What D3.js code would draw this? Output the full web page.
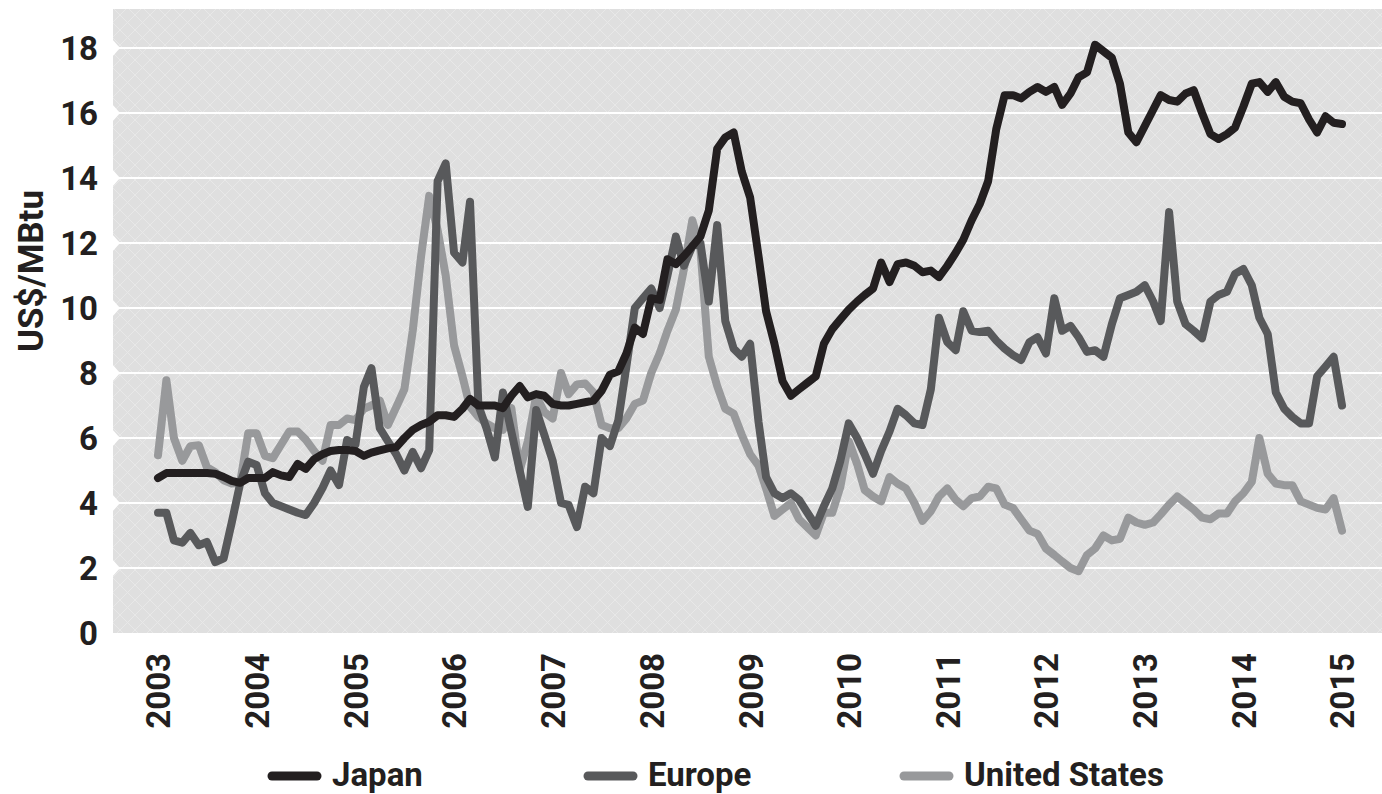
<!DOCTYPE html>
<html lang="en">
<head>
  <meta charset="UTF-8">
  <title>LNG prices</title>
  <style>
    body { margin: 0; background: #fff; overflow: hidden; }
    text { font-family: Roboto, "DejaVu Sans", sans-serif; font-weight: 700; fill: #231f20; }
    .line { fill: none; stroke-width: 8px; stroke-linejoin: round; stroke-linecap: round; }
  </style>
</head>
<body>
  <div id="chart"></div>

  <script src="https://cdn.jsdelivr.net/npm/d3@7"></script>
  <script>
    // tick labels
    const years = d3.range(2003, 2016);
    const yTicks = [0, 2, 4, 6, 8, 10, 12, 14, 16, 18];

    // monthly values, Jan 2003 .. Jan 2015 (US$/MBtu)
    const japan = [
      4.77, 4.92, 4.92, 4.92, 4.92, 4.92, 4.92, 4.9, 4.8, 4.68, 4.62, 4.77,
      4.77, 4.77, 4.95, 4.85, 4.8, 5.2, 5.05, 5.35, 5.5, 5.6, 5.63, 5.63,
      5.6, 5.45, 5.55, 5.62, 5.68, 5.72, 6.0, 6.25, 6.4, 6.5, 6.7, 6.7,
      6.65, 6.9, 7.2, 7.0, 7.0, 7.0, 6.92, 7.3, 7.6, 7.25, 7.35, 7.3,
      7.05, 7.0, 7.0, 7.05, 7.1, 7.15, 7.45, 7.95, 8.05, 8.6, 9.4, 9.2,
      10.3, 10.25, 11.5, 11.35, 11.6, 11.9, 12.2, 13.0, 14.9, 15.25, 15.4, 14.2,
      13.4, 11.6, 9.9, 8.9, 7.75, 7.3, 7.5, 7.7, 7.9, 8.9, 9.35, 9.65,
      9.95, 10.2, 10.4, 10.6, 11.4, 10.8, 11.35, 11.4, 11.3, 11.1, 11.15, 10.95,
      11.3, 11.7, 12.1, 12.7, 13.2, 13.9, 15.5, 16.55, 16.55, 16.45, 16.65, 16.8,
      16.65, 16.8, 16.25, 16.6, 17.1, 17.25, 18.1, 17.9, 17.7, 16.9, 15.4, 15.1,
      15.6, 16.1, 16.55, 16.4, 16.35, 16.6, 16.7, 16.0, 15.35, 15.2, 15.35, 15.55,
      16.2, 16.9, 16.95, 16.65, 16.95, 16.5, 16.35, 16.3, 15.8, 15.4, 15.9, 15.7,
      15.66
    ];
    const europe = [
      3.7, 3.7, 2.85, 2.78, 3.08, 2.7, 2.8, 2.18, 2.3, 3.4, 4.6, 5.27,
      5.17, 4.3, 4.0, 3.9, 3.8, 3.7, 3.63, 4.0, 4.46, 5.0, 4.55, 5.94,
      5.8, 7.57, 8.15, 6.3, 5.9, 5.5, 5.0, 5.57, 5.07, 5.63, 13.9, 14.45,
      11.7, 11.4, 13.27, 7.0, 6.3, 5.4, 7.4, 6.2, 5.0, 3.88, 6.86, 6.1,
      5.3, 4.0, 3.94, 3.26, 4.5, 4.3, 6.0, 5.75, 6.55, 8.2, 10.0, 10.3,
      10.6, 10.0, 11.0, 12.2, 11.3, 11.9, 12.0, 10.2, 12.55, 9.6, 8.75, 8.5,
      8.9, 6.5, 4.8, 4.3, 4.15, 4.3, 4.1, 3.7, 3.3, 3.9, 4.45, 5.3,
      6.45, 6.0, 5.5, 4.9, 5.6, 6.2, 6.9, 6.7, 6.45, 6.4, 7.5, 9.7,
      8.95, 8.7, 9.9, 9.3, 9.26, 9.3, 9.0, 8.75, 8.55, 8.4, 8.95, 9.1,
      8.6, 10.3, 9.3, 9.45, 9.1, 8.65, 8.7, 8.5, 9.5, 10.3, 10.4, 10.5,
      10.7, 10.2, 9.6, 12.95, 10.2, 9.5, 9.3, 9.07, 10.2, 10.4, 10.5, 11.05,
      11.2, 10.7, 9.7, 9.2, 7.4, 6.9, 6.65, 6.45, 6.45, 7.9, 8.2, 8.5,
      7.0
    ];
    const unitedStates = [
      5.47, 7.78, 6.0, 5.3, 5.75, 5.78, 5.1, 4.95, 4.7, 4.6, 4.62, 6.15,
      6.15, 5.45, 5.38, 5.8, 6.2, 6.2, 5.95, 5.6, 5.3, 6.4, 6.4, 6.6,
      6.55, 6.9, 7.0, 7.15, 6.4, 6.95, 7.5, 9.3, 11.6, 13.45, 12.4, 11.0,
      8.85, 7.9, 6.96, 6.65, 6.45, 6.3, 6.25, 6.92, 5.0, 5.9, 7.3, 6.8,
      6.6, 8.0, 7.35, 7.65, 7.68, 7.4, 6.4, 6.3, 6.3, 6.6, 7.05, 7.15,
      8.0, 8.6, 9.3, 9.95, 11.2, 12.7, 11.8, 8.5, 7.6, 6.9, 6.75, 6.1,
      5.5, 5.15, 4.45, 3.6, 3.8, 4.0, 3.5, 3.25, 3.0, 3.7, 3.7, 4.5,
      5.9, 5.2, 4.4, 4.2, 4.05, 4.8, 4.6, 4.45, 4.0, 3.45, 3.75, 4.2,
      4.45, 4.1, 3.9, 4.15, 4.2, 4.5, 4.45, 3.95, 3.85, 3.5, 3.15, 3.05,
      2.6, 2.4, 2.2, 2.0, 1.9, 2.4, 2.6, 3.0, 2.85, 2.9, 3.55, 3.4,
      3.33, 3.4, 3.65, 3.95, 4.2, 4.0, 3.8, 3.55, 3.5, 3.68, 3.68, 4.05,
      4.3, 4.65, 6.0, 4.9, 4.6, 4.55, 4.55, 4.05, 3.95, 3.85, 3.8, 4.15,
      3.15
    ];
    const months = d3.range(japan.length).map(i => new Date(2003, i, 1));

    const series = [
      { name: "United States", values: unitedStates, color: "#98999b" },
      { name: "Europe", values: europe, color: "#58595b" },
      { name: "Japan", values: japan, color: "#231f20" }
    ];

    const W = 1382, H = 794;
    const plot = { left: 113, right: 1382, top: 9, bottom: 633 };

    const svg = d3.select("#chart").append("svg")
      .attr("width", W)
      .attr("height", H);

    const x = d3.scaleTime()
      .domain([new Date(2003, 0, 1), new Date(2015, 0, 1)])
      .range([158, 1342]);

    const y = d3.scaleLinear()
      .domain([0, 18])
      .range([plot.bottom, 48]);

    // hatched background
    const defs = svg.append("defs");
    const pat = defs.append("pattern")
      .attr("id", "hatch")
      .attr("patternUnits", "userSpaceOnUse")
      .attr("width", 15)
      .attr("height", 15);
    pat.append("rect").attr("width", 15).attr("height", 15).attr("fill", "#dfdfdf");
    pat.append("path")
      .attr("d", "M0,0L15,15M15,0L0,15")
      .attr("stroke", "#e8e8e8")
      .attr("stroke-width", 1);

    svg.append("rect")
      .attr("x", plot.left)
      .attr("y", plot.top)
      .attr("width", plot.right - plot.left)
      .attr("height", plot.bottom - plot.top)
      .attr("fill", "url(#hatch)");

    // gridlines + notches on the left edge
    const grid = yTicks.filter(d => d > 0);
    svg.append("g").selectAll("line")
      .data(grid)
      .enter().append("line")
      .attr("x1", plot.left)
      .attr("x2", plot.right)
      .attr("y1", d => y(d))
      .attr("y2", d => y(d))
      .attr("stroke", "#fff")
      .attr("stroke-width", 2);

    svg.append("g").selectAll("path")
      .data(grid)
      .enter().append("path")
      .attr("d", d => `M${plot.left - 1},${y(d) - 9}L${plot.left + 7},${y(d)}L${plot.left - 1},${y(d) + 9}Z`)
      .attr("fill", "#fff");

    // y axis
    const yAxis = svg.append("g")
      .attr("transform", "translate(100,0)")
      .call(d3.axisLeft(y).tickValues(yTicks).tickSize(0).tickPadding(2));
    yAxis.select(".domain").remove();
    yAxis.selectAll("text")
      .attr("dy", "0.36em")
      .style("font-family", "Roboto, sans-serif")
      .style("font-weight", 700)
      .style("font-size", "33px")
      .style("fill", "#231f20");

    // x axis, rotated labels
    const xAxis = svg.append("g")
      .attr("transform", `translate(0,${plot.bottom})`)
      .call(d3.axisBottom(x)
        .tickValues(years.map(yr => new Date(yr, 0, 1)))
        .tickFormat(d3.timeFormat("%Y"))
        .tickSize(0));
    xAxis.select(".domain").remove();
    xAxis.selectAll("text")
      .attr("transform", "translate(0,20) rotate(-90)")
      .attr("x", 0)
      .attr("y", 0)
      .attr("dy", "0.36em")
      .style("text-anchor", "end")
      .style("font-family", "Roboto, sans-serif")
      .style("font-weight", 700)
      .style("font-size", "33px")
      .style("fill", "#231f20");

    // y title
    svg.append("text")
      .attr("transform", "translate(30,271) rotate(-90)")
      .attr("text-anchor", "middle")
      .attr("dy", "0.36em")
      .style("font-size", "35px")
      .text("US$/MBtu");

    // lines
    const line = d3.line()
      .x((d, i) => x(months[i]))
      .y(d => y(d));

    series.forEach(s => {
      svg.append("path")
        .datum(s.values)
        .attr("class", "line")
        .attr("stroke", s.color)
        .attr("d", line);
    });

    // legend
    const legendItems = [
      { name: "Japan", color: "#231f20", x: 272 },
      { name: "Europe", color: "#58595b", x: 588 },
      { name: "United States", color: "#98999b", x: 904 }
    ];
    const legend = svg.append("g").attr("transform", "translate(0,776)");
    legendItems.forEach(it => {
      legend.append("line")
        .attr("x1", it.x)
        .attr("x2", it.x + 45)
        .attr("stroke", it.color)
        .attr("stroke-width", 9)
        .attr("stroke-linecap", "round");
      legend.append("text")
        .attr("x", it.x + 60)
        .attr("y", 10)
        .style("font-size", "33px")
        .text(it.name);
    });
  </script>
</body>
</html>
